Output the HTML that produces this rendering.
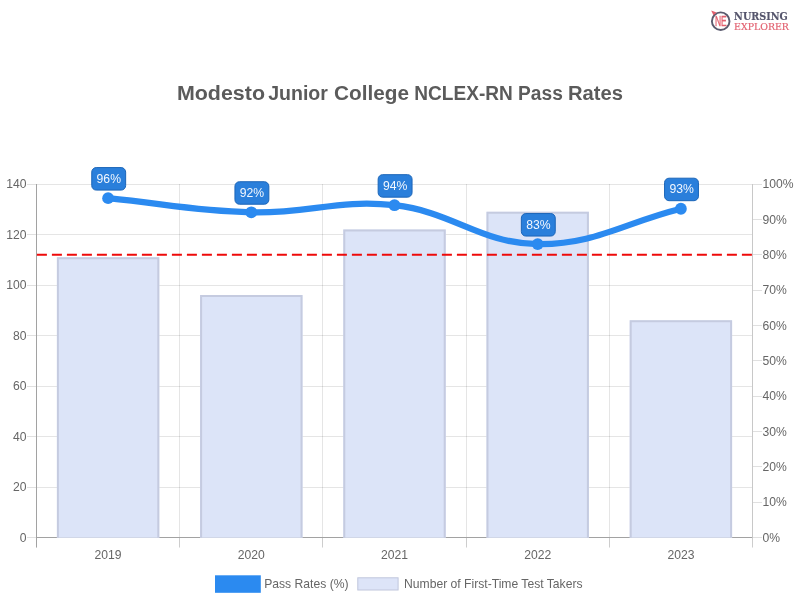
<!DOCTYPE html><html><head><meta charset="utf-8"><title>Modesto Junior College NCLEX-RN Pass Rates</title>
<style>html,body{margin:0;padding:0;background:#fff;}body{width:800px;height:600px;overflow:hidden;}svg{display:block;}text{font-family:"Liberation Sans",Arial,sans-serif;}</style></head><body>
<svg width="800" height="600" viewBox="0 0 800 600">
<rect width="800" height="600" fill="#fff"/>
<g stroke="#000" stroke-opacity="0.1" stroke-width="1">
<line x1="36.5" x2="752.5" y1="487.50" y2="487.50"/>
<line x1="36.5" x2="752.5" y1="436.50" y2="436.50"/>
<line x1="36.5" x2="752.5" y1="386.50" y2="386.50"/>
<line x1="36.5" x2="752.5" y1="335.50" y2="335.50"/>
<line x1="36.5" x2="752.5" y1="285.50" y2="285.50"/>
<line x1="36.5" x2="752.5" y1="234.50" y2="234.50"/>
<line x1="36.5" x2="752.5" y1="184.50" y2="184.50"/>
<line x1="179.50" x2="179.50" y1="184.0" y2="547.5"/>
<line x1="322.50" x2="322.50" y1="184.0" y2="547.5"/>
<line x1="466.50" x2="466.50" y1="184.0" y2="547.5"/>
<line x1="609.50" x2="609.50" y1="184.0" y2="547.5"/>
<line x1="752.50" x2="752.50" y1="184.0" y2="547.5"/>
</g>
<g stroke="#000" stroke-opacity="0.1" stroke-width="1">
<line x1="36.50" x2="36.50" y1="537.5" y2="547.5"/>
<line x1="179.50" x2="179.50" y1="537.5" y2="547.5"/>
<line x1="322.50" x2="322.50" y1="537.5" y2="547.5"/>
<line x1="466.50" x2="466.50" y1="537.5" y2="547.5"/>
<line x1="609.50" x2="609.50" y1="537.5" y2="547.5"/>
<line x1="752.50" x2="752.50" y1="537.5" y2="547.5"/>
</g>
<g stroke="#e0e0e0" stroke-width="1">
<line x1="27.0" x2="36.5" y1="537.50" y2="537.50"/>
<line x1="27.0" x2="36.5" y1="487.50" y2="487.50"/>
<line x1="27.0" x2="36.5" y1="436.50" y2="436.50"/>
<line x1="27.0" x2="36.5" y1="386.50" y2="386.50"/>
<line x1="27.0" x2="36.5" y1="335.50" y2="335.50"/>
<line x1="27.0" x2="36.5" y1="285.50" y2="285.50"/>
<line x1="27.0" x2="36.5" y1="234.50" y2="234.50"/>
<line x1="27.0" x2="36.5" y1="184.50" y2="184.50"/>
<line x1="752.5" x2="762.0" y1="537.50" y2="537.50"/>
<line x1="752.5" x2="762.0" y1="502.50" y2="502.50"/>
<line x1="752.5" x2="762.0" y1="466.50" y2="466.50"/>
<line x1="752.5" x2="762.0" y1="431.50" y2="431.50"/>
<line x1="752.5" x2="762.0" y1="396.50" y2="396.50"/>
<line x1="752.5" x2="762.0" y1="360.50" y2="360.50"/>
<line x1="752.5" x2="762.0" y1="325.50" y2="325.50"/>
<line x1="752.5" x2="762.0" y1="290.50" y2="290.50"/>
<line x1="752.5" x2="762.0" y1="254.50" y2="254.50"/>
<line x1="752.5" x2="762.0" y1="219.50" y2="219.50"/>
<line x1="752.5" x2="762.0" y1="184.50" y2="184.50"/>
</g>
<g stroke="#a2a2a2" stroke-width="1">
<line x1="36.5" x2="36.5" y1="184.0" y2="547.5"/>
<line x1="36.5" x2="752.5" y1="537.5" y2="537.5"/>
</g>
<line x1="752.5" x2="752.5" y1="184.0" y2="537.5" stroke="#c8c8c8" stroke-width="1"/>
<rect x="56.90" y="257.23" width="102.40" height="280.57" fill="#dce4f8"/>
<path d="M57.90,537.8 V258.23 H158.30 V537.8" fill="none" stroke="#c5cbe0" stroke-width="2"/>
<rect x="200.10" y="295.10" width="102.40" height="242.70" fill="#dce4f8"/>
<path d="M201.10,537.8 V296.10 H301.50 V537.8" fill="none" stroke="#c5cbe0" stroke-width="2"/>
<rect x="343.30" y="229.45" width="102.40" height="308.35" fill="#dce4f8"/>
<path d="M344.30,537.8 V230.45 H444.70 V537.8" fill="none" stroke="#c5cbe0" stroke-width="2"/>
<rect x="486.50" y="211.78" width="102.40" height="326.02" fill="#dce4f8"/>
<path d="M487.50,537.8 V212.78 H587.90 V537.8" fill="none" stroke="#c5cbe0" stroke-width="2"/>
<rect x="629.70" y="320.35" width="102.40" height="217.45" fill="#dce4f8"/>
<path d="M630.70,537.8 V321.35 H731.10 V537.8" fill="none" stroke="#c5cbe0" stroke-width="2"/>
<line x1="36.5" x2="752.5" y1="254.70" y2="254.70" stroke="#ee0a0a" stroke-width="2" stroke-dasharray="10,5" stroke-dashoffset="-0.4"/>
<path d="M108.10,198.14 C165.38,203.80 193.92,210.86 251.30,212.28 C308.48,213.69 338.20,198.96 394.50,205.21 C452.76,211.68 480.25,243.39 537.70,244.10 C594.81,244.80 623.62,222.89 680.90,208.75" fill="none" stroke="#2b8af0" stroke-width="6.3" stroke-linecap="butt" stroke-linejoin="round"/>
<circle cx="108.10" cy="198.14" r="5.9" fill="#2b8af0"/>
<circle cx="251.30" cy="212.28" r="5.9" fill="#2b8af0"/>
<circle cx="394.50" cy="205.21" r="5.9" fill="#2b8af0"/>
<circle cx="537.70" cy="244.10" r="5.9" fill="#2b8af0"/>
<circle cx="680.90" cy="208.75" r="5.9" fill="#2b8af0"/>
<rect x="91.75" y="167.59" width="33.9" height="22.5" rx="4.5" fill="#2a7fdb" stroke="#1b65b8" stroke-width="1"/>
<text x="108.80" y="182.84" font-size="12.2" fill="#f2f7fe" text-anchor="middle">96%</text>
<rect x="234.95" y="181.73" width="33.9" height="22.5" rx="4.5" fill="#2a7fdb" stroke="#1b65b8" stroke-width="1"/>
<text x="252.00" y="196.98" font-size="12.2" fill="#f2f7fe" text-anchor="middle">92%</text>
<rect x="378.15" y="174.66" width="33.9" height="22.5" rx="4.5" fill="#2a7fdb" stroke="#1b65b8" stroke-width="1"/>
<text x="395.20" y="189.91" font-size="12.2" fill="#f2f7fe" text-anchor="middle">94%</text>
<rect x="521.35" y="213.55" width="33.9" height="22.5" rx="4.5" fill="#2a7fdb" stroke="#1b65b8" stroke-width="1"/>
<text x="538.40" y="228.80" font-size="12.2" fill="#f2f7fe" text-anchor="middle">83%</text>
<rect x="664.55" y="178.19" width="33.9" height="22.5" rx="4.5" fill="#2a7fdb" stroke="#1b65b8" stroke-width="1"/>
<text x="681.60" y="193.44" font-size="12.2" fill="#f2f7fe" text-anchor="middle">93%</text>
<g font-size="12.15" fill="#666">
<text x="26.5" y="541.80" text-anchor="end">0</text>
<text x="26.5" y="491.30" text-anchor="end">20</text>
<text x="26.5" y="440.80" text-anchor="end">40</text>
<text x="26.5" y="390.30" text-anchor="end">60</text>
<text x="26.5" y="339.80" text-anchor="end">80</text>
<text x="26.5" y="289.30" text-anchor="end">100</text>
<text x="26.5" y="238.80" text-anchor="end">120</text>
<text x="26.5" y="188.30" text-anchor="end">140</text>
<text x="762.5" y="541.80">0%</text>
<text x="762.5" y="506.45">10%</text>
<text x="762.5" y="471.10">20%</text>
<text x="762.5" y="435.75">30%</text>
<text x="762.5" y="400.40">40%</text>
<text x="762.5" y="365.05">50%</text>
<text x="762.5" y="329.70">60%</text>
<text x="762.5" y="294.35">70%</text>
<text x="762.5" y="259.00">80%</text>
<text x="762.5" y="223.65">90%</text>
<text x="762.5" y="188.30">100%</text>
<text x="108.10" y="559" text-anchor="middle">2019</text>
<text x="251.30" y="559" text-anchor="middle">2020</text>
<text x="394.50" y="559" text-anchor="middle">2021</text>
<text x="537.70" y="559" text-anchor="middle">2022</text>
<text x="680.90" y="559" text-anchor="middle">2023</text>
</g>
<rect x="215" y="575.3" width="45.8" height="17.5" fill="#2b8af0"/>
<text x="264.2" y="588" font-size="12.15" fill="#666">Pass Rates (%)</text>
<rect x="357.8" y="577.8" width="40.3" height="12.2" fill="#dde4f8" stroke="#c0c6dc" stroke-width="1"/>
<text x="404" y="588" font-size="12.15" fill="#666">Number of First-Time Test Takers</text>
<g font-size="19.5" font-weight="bold" fill="#5b5b5b">
<text x="176.9" y="99.5" textLength="88.1" lengthAdjust="spacingAndGlyphs" class="tw">Modesto</text>
<text x="268.2" y="99.5" textLength="59.7" lengthAdjust="spacingAndGlyphs" class="tw">Junior</text>
<text x="334.0" y="99.5" textLength="75.0" lengthAdjust="spacingAndGlyphs" class="tw">College</text>
<text x="414.3" y="99.5" textLength="98.5" lengthAdjust="spacingAndGlyphs" class="tw">NCLEX-RN</text>
<text x="518.0" y="99.5" textLength="44.8" lengthAdjust="spacingAndGlyphs" class="tw">Pass</text>
<text x="568.0" y="99.5" textLength="55.0" lengthAdjust="spacingAndGlyphs" class="tw">Rates</text>
</g>
<g>
<circle cx="720.7" cy="21.2" r="8.8" fill="none" stroke="#5a5a6e" stroke-width="1.9"/>
<path d="M711.2,10.6 L716.6,12.4 L713.4,15.2 Z" fill="#e2606f"/>
<text x="714.9" y="25.8" font-size="13.8" stroke="#e2606f" stroke-width="0.35" fill="#e2606f" textLength="11.8" lengthAdjust="spacingAndGlyphs" style="font-family:'Liberation Sans',sans-serif">NE</text>
<text x="734.1" y="19.8" font-size="10.3" font-weight="bold" fill="#55556c" stroke="#55556c" stroke-width="0.15" textLength="53.6" lengthAdjust="spacingAndGlyphs" style="font-family:'DejaVu Serif','Liberation Serif',serif">NURSING</text>
<text x="734.1" y="30" font-size="9.9" stroke="#e2606f" stroke-width="0.2" fill="#e2606f" textLength="54.8" lengthAdjust="spacingAndGlyphs" style="font-family:'DejaVu Serif','Liberation Serif',serif">EXPLORER</text>
</g>
</svg></body></html>
